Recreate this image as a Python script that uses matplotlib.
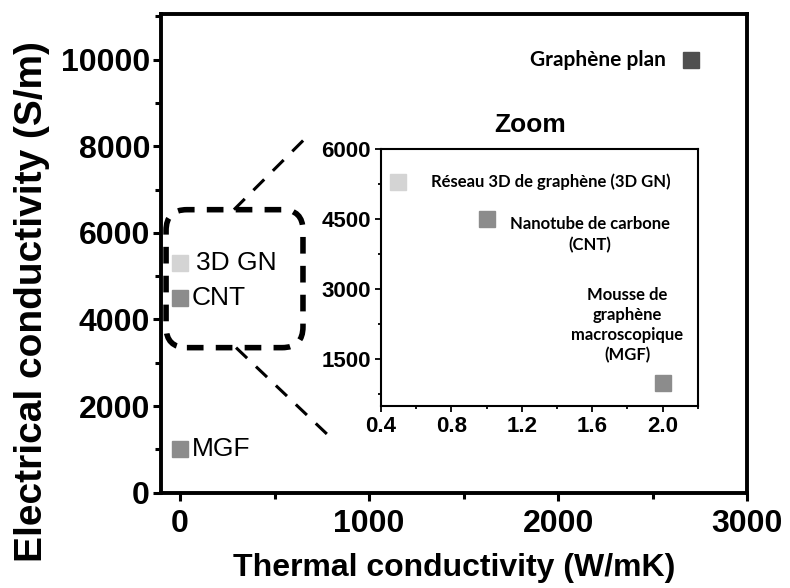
import matplotlib.pyplot as plt
from matplotlib.patches import FancyBboxPatch
from matplotlib.ticker import MultipleLocator

plt.rcParams['font.family'] = ['Liberation Sans', 'DejaVu Sans']
plt.rcParams['font.weight'] = 'bold'

# Data (thermal W/mK, electrical S/m)
materials = ['3D GN', 'CNT', 'MGF']
thermal = [0.5, 1.0, 2.0]
electrical = [5300, 4500, 1000]
colors = ['#d4d4d4', '#8c8c8c', '#8c8c8c']

plan_thermal = 2700
plan_electrical = 10000
plan_color = '#4f4f4f'

inset_notes = ['Réseau 3D de graphène (3D GN)',
               'Nanotube de carbone\n(CNT)',
               'Mousse de\ngraphène\nmacroscopique\n(MGF)']

fig = plt.figure(figsize=(7.9, 5.88), dpi=100)
ax = fig.add_axes([0.204, 0.162, 0.742, 0.814])

for x, y, c in zip(thermal, electrical, colors):
    ax.plot(x, y, 's', ms=12, color=c, mec=c)
ax.plot(plan_thermal, plan_electrical, 's', ms=12, color=plan_color)

ax.text(85, electrical[0], materials[0], fontsize=19, fontweight='normal', va='center')
ax.text(60, electrical[1], materials[1], fontsize=19, fontweight='normal', va='center')
ax.text(60, electrical[2], materials[2], fontsize=19, fontweight='normal', va='center')
ax.text(plan_thermal - 133, plan_electrical, 'Graphène plan', family=['Lato', 'DejaVu Sans'],
        fontsize=15, fontweight='bold', ha='right', va='center')

ax.set_xlim(-100, 3000)
ax.set_ylim(0, 11050)
ax.xaxis.set_major_locator(MultipleLocator(1000))
ax.xaxis.set_minor_locator(MultipleLocator(500))
ax.yaxis.set_major_locator(MultipleLocator(2000))
ax.yaxis.set_minor_locator(MultipleLocator(1000))
ax.tick_params(which='major', direction='out', length=6, width=2.2, labelsize=23, pad=2)
ax.tick_params(axis='x', which='major', pad=6)
ax.tick_params(which='minor', direction='out', length=4, width=2.2)
for lab in ax.get_xticklabels() + ax.get_yticklabels():
    lab.set_fontweight('bold')
for s in ax.spines.values():
    s.set_linewidth(2.8)

ax.set_xlabel('Thermal conductivity (W/mK)', fontsize=23, fontweight='bold')
ax.set_ylabel('Electrical conductivity (S/m)', fontsize=28, fontweight='bold')
ax.xaxis.set_label_coords(0.5, -0.125)
ax.yaxis.set_label_coords(-0.19, 0.40)

# dashed rounded box around the small values + zoom lines
box = FancyBboxPatch((-74, 3350), 724, 3185,
                     boxstyle='round,pad=0,rounding_size=110',
                     mutation_aspect=4.37, fill=False, ec='black',
                     lw=4, ls=(0, (3, 2.2)), clip_on=False)
ax.add_patch(box)
ax.plot([285, 655], [6535, 8150], color='black', lw=2.2, ls=(0, (5, 4)))
ax.plot([296, 808], [3350, 1225], color='black', lw=2.2, ls=(0, (5, 4)))

# inset
ins = fig.add_axes([0.482, 0.3095, 0.4015, 0.4371])
for x, y, c in zip(thermal, electrical, colors):
    ins.plot(x, y, 's', ms=12, color=c, mec=c)
ins.set_xlim(0.4, 2.2)
ins.set_ylim(500, 6000)
ins.xaxis.set_minor_locator(MultipleLocator(0.2))
ins.yaxis.set_major_locator(MultipleLocator(1500))
ins.yaxis.set_minor_locator(MultipleLocator(750))
ins.set_xticks([0.4, 0.8, 1.2, 1.6, 2.0])
ins.set_xticklabels(['0.4', '0.8', '1.2', '1.6', '2.0'])
ins.tick_params(which='major', direction='out', length=4, width=1.3, labelsize=16, pad=3)
ins.tick_params(which='minor', direction='out', length=2.5, width=1.3)
for lab in ins.get_xticklabels() + ins.get_yticklabels():
    lab.set_fontweight('bold')
for s in ins.spines.values():
    s.set_linewidth(1.5)
ins.set_title('Zoom', fontsize=19, fontweight='bold', pad=12, x=0.47)

note_font = dict(family=['Lato', 'DejaVu Sans'], fontsize=12, fontweight='bold')
ins.text(0.685, electrical[0], inset_notes[0], ha='left', va='center', **note_font)
ins.text(1.585, 4170, inset_notes[1], ha='center', va='center', linespacing=1.35, **note_font)
ins.text(1.80, 2230, inset_notes[2], ha='center', va='center', linespacing=1.3, **note_font)

fig.savefig('out.png', dpi=100)
